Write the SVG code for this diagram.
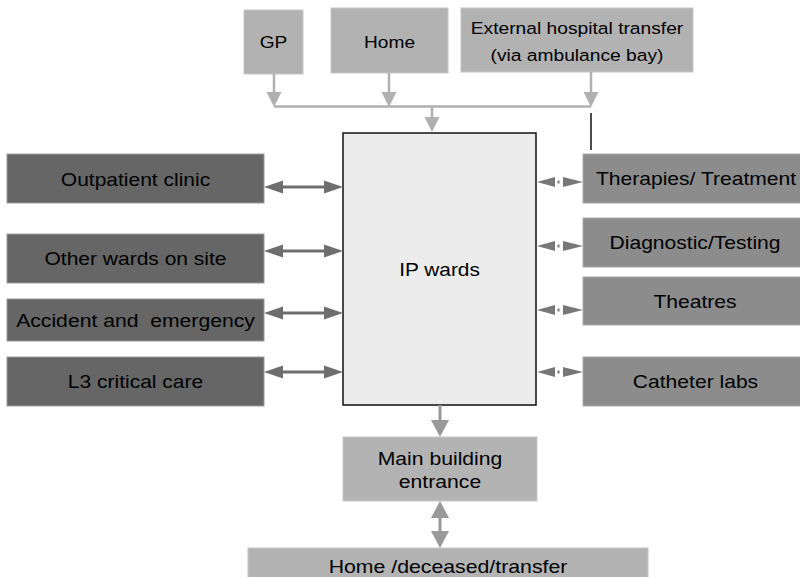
<svg xmlns="http://www.w3.org/2000/svg" width="800" height="577" viewBox="0 0 800 577">
  <style>
    text { font-family: "Liberation Sans", Arial, Helvetica, sans-serif; font-size: 17.5px; fill: #000; text-anchor: middle; }
    .sm { font-size: 16.5px; }
    .lg { font-size: 18px; }
    .src { fill: #b2b2b2; stroke: #c6c6c6; stroke-width: 1; }
    .left { fill: #666666; stroke: #9a9a9a; stroke-width: 1; }
    .right { fill: #8c8c8c; stroke: #a8a8a8; stroke-width: 1; }
    .exit { fill: #b3b3b3; stroke: #c6c6c6; stroke-width: 1; }
    .ward { fill: #ececec; stroke: #111; stroke-width: 1.5; }
    .feed { stroke: #b0b0b0; stroke-width: 2.5; fill: none; }
    .feedhead { fill: #b0b0b0; }
    .link { stroke: #6e6e6e; stroke-width: 3; fill: none; }
    .linkhead { fill: #6e6e6e; }
    .svc { fill: #777777; }
    .flow { stroke: #999999; stroke-width: 3; fill: none; }
    .flowhead { fill: #999999; }
  </style>

  <!-- admission sources -->
  <g id="gp">
    <rect class="src" x="244" y="10" width="59" height="64"/>
    <text class="sm" transform="translate(273.5,48) scale(1.16,1)">GP</text>
  </g>
  <g id="home">
    <rect class="src" x="331" y="8" width="117" height="65"/>
    <text class="sm" transform="translate(389.5,48) scale(1.16,1)">Home</text>
  </g>
  <g id="external-transfer">
    <rect class="src" x="461" y="8" width="232" height="64"/>
    <text class="sm" transform="translate(577,34) scale(1.165,1)">External hospital transfer</text>
    <text class="sm" transform="translate(577,61) scale(1.165,1)">(via ambulance bay)</text>
  </g>

  <!-- central ward block -->
  <g id="ip-wards">
    <rect class="ward" x="343" y="133" width="193" height="272"/>
    <text class="lg" transform="translate(439.5,276) scale(1.157,1)">IP wards</text>
  </g>

  <!-- on-site departments -->
  <g id="outpatient-clinic">
    <rect class="left" x="7" y="154" width="257" height="49"/>
    <text transform="translate(135.5,185.5) scale(1.2,1)">Outpatient clinic</text>
  </g>
  <g id="other-wards">
    <rect class="left" x="7" y="234" width="257" height="49"/>
    <text transform="translate(135.5,265) scale(1.2,1)">Other wards on site</text>
  </g>
  <g id="accident-emergency">
    <rect class="left" x="7" y="299" width="257" height="42"/>
    <text xml:space="preserve" transform="translate(135.5,326.5) scale(1.21,1)">Accident and  emergency</text>
  </g>
  <g id="critical-care">
    <rect class="left" x="7" y="357" width="257" height="49"/>
    <text transform="translate(135.5,388) scale(1.2,1)">L3 critical care</text>
  </g>

  <!-- clinical services -->
  <g id="therapies">
    <rect class="right" x="583" y="154" width="230" height="49"/>
    <text transform="translate(696,184.5) scale(1.205,1)">Therapies/ Treatment</text>
  </g>
  <g id="diagnostics">
    <rect class="right" x="583" y="218" width="230" height="49"/>
    <text transform="translate(695,249) scale(1.205,1)">Diagnostic/Testing</text>
  </g>
  <g id="theatres">
    <rect class="right" x="583" y="277" width="230" height="48"/>
    <text transform="translate(695,307.5) scale(1.205,1)">Theatres</text>
  </g>
  <g id="catheter-labs">
    <rect class="right" x="583" y="357" width="230" height="49"/>
    <text transform="translate(695.5,388) scale(1.205,1)">Catheter labs</text>
  </g>

  <!-- discharge route -->
  <g id="main-entrance">
    <rect class="exit" x="343" y="437" width="194" height="64"/>
    <text transform="translate(440,465) scale(1.21,1)">Main building</text>
    <text transform="translate(440,488) scale(1.21,1)">entrance</text>
  </g>
  <g id="discharge-destination">
    <rect class="exit" x="248" y="548" width="400" height="34"/>
    <text transform="translate(448,573) scale(1.215,1)">Home /deceased/transfer</text>
  </g>

  <g id="connectors">
    <!-- admission feed: three drops onto a collector bar, then into the wards -->
    <line class="feed" x1="274" y1="74" x2="274" y2="95"/>
    <polygon class="feedhead" points="266.5,92 281.5,92 274,107"/>
    <line class="feed" x1="389" y1="73" x2="389" y2="95"/>
    <polygon class="feedhead" points="381.5,92 396.5,92 389,107"/>
    <line class="feed" x1="591" y1="72" x2="591" y2="95"/>
    <polygon class="feedhead" points="583.5,92 598.5,92 591,107"/>
    <line class="feed" x1="274" y1="106.5" x2="591" y2="106.5"/>
    <line class="feed" x1="432" y1="106" x2="432" y2="120"/>
    <polygon class="feedhead" points="424.5,117 439.5,117 432,132"/>
    <line x1="591" y1="113" x2="591" y2="150" stroke="#111" stroke-width="1.5"/>

    <!-- two-way links with on-site departments -->
    <g id="link-outpatient">
      <line class="link" x1="276" y1="187" x2="331" y2="187"/>
      <polygon class="linkhead" points="264,187 283,180.5 283,193.5"/>
      <polygon class="linkhead" points="343,187 324,180.5 324,193.5"/>
    </g>
    <g id="link-other-wards">
      <line class="link" x1="276" y1="251" x2="331" y2="251"/>
      <polygon class="linkhead" points="264,251 283,244.5 283,257.5"/>
      <polygon class="linkhead" points="343,251 324,244.5 324,257.5"/>
    </g>
    <g id="link-ae">
      <line class="link" x1="276" y1="313" x2="331" y2="313"/>
      <polygon class="linkhead" points="264,313 283,306.5 283,319.5"/>
      <polygon class="linkhead" points="343,313 324,306.5 324,319.5"/>
    </g>
    <g id="link-critical-care">
      <line class="link" x1="276" y1="372" x2="331" y2="372"/>
      <polygon class="linkhead" points="264,372 283,365.5 283,378.5"/>
      <polygon class="linkhead" points="343,372 324,365.5 324,378.5"/>
    </g>

    <!-- short dashed two-way links with clinical services -->
    <g id="link-therapies">
      <polygon class="svc" points="537,182 555,177 555,187"/>
      <rect class="svc" x="557.5" y="180.5" width="2" height="3"/>
      <polygon class="svc" points="583,182 563,177 563,187"/>
    </g>
    <g id="link-diagnostics">
      <polygon class="svc" points="537,246 555,241 555,251"/>
      <rect class="svc" x="557.5" y="244.5" width="2" height="3"/>
      <polygon class="svc" points="583,246 563,241 563,251"/>
    </g>
    <g id="link-theatres">
      <polygon class="svc" points="537,310 555,305 555,315"/>
      <rect class="svc" x="557.5" y="308.5" width="2" height="3"/>
      <polygon class="svc" points="583,310 563,305 563,315"/>
    </g>
    <g id="link-catheter">
      <polygon class="svc" points="537,372 555,367 555,377"/>
      <rect class="svc" x="557.5" y="370.5" width="2" height="3"/>
      <polygon class="svc" points="583,372 563,367 563,377"/>
    </g>

    <!-- discharge path -->
    <line class="flow" x1="440" y1="405" x2="440" y2="424"/>
    <polygon class="flowhead" points="431,420 449,420 440,437"/>
    <line class="flow" x1="440" y1="514" x2="440" y2="535"/>
    <polygon class="flowhead" points="431,518 449,518 440,501"/>
    <polygon class="flowhead" points="431,531 449,531 440,548"/>
  </g>
</svg>
